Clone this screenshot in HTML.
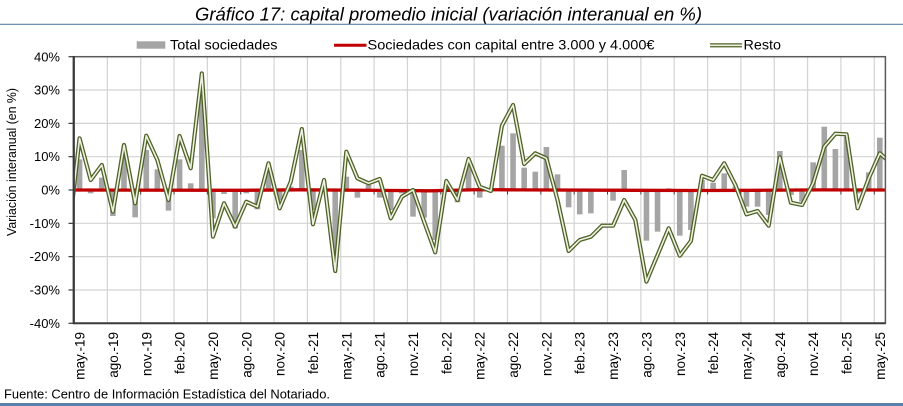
<!DOCTYPE html>
<html><head><meta charset="utf-8"><style>
html,body{margin:0;padding:0;background:#fff;}
svg{display:block;}
text{font-family:"Liberation Sans",Arial,sans-serif;fill:#000;}
</style></head><body>
<svg width="903" height="406" viewBox="0 0 903 406" xmlns="http://www.w3.org/2000/svg">
<rect x="0" y="0" width="903" height="406" fill="#fff"/>
<text x="195" y="20.5" font-size="18.5" font-style="italic" textLength="507" lengthAdjust="spacingAndGlyphs" fill="#1a1a1a">Gráfico 17: capital promedio inicial (variación interanual en %)</text>
<line x1="0" y1="24.3" x2="903" y2="24.3" stroke="#5b80a8" stroke-width="1.2"/>
<rect x="136.7" y="41.3" width="28.6" height="7.4" fill="#a5a5a5"/>
<text x="170" y="49.5" font-size="14" textLength="107.5" lengthAdjust="spacingAndGlyphs">Total sociedades</text>
<line x1="334" y1="45.3" x2="366.5" y2="45.3" stroke="#c00000" stroke-width="3"/>
<text x="367.5" y="49.5" font-size="14" textLength="287" lengthAdjust="spacingAndGlyphs">Sociedades con capital entre 3.000 y 4.000€</text>
<line x1="710" y1="45.3" x2="742" y2="45.3" stroke="#4f6228" stroke-width="4.2"/>
<line x1="710" y1="45.3" x2="742" y2="45.3" stroke="#eef2e0" stroke-width="1.6"/>
<text x="743.5" y="49.5" font-size="14" textLength="37.5" lengthAdjust="spacingAndGlyphs">Resto</text>
<g stroke="#d3d3d3" stroke-width="1.2">
<line x1="74" y1="90.03" x2="885.4" y2="90.03"/><line x1="74" y1="123.35" x2="885.4" y2="123.35"/><line x1="74" y1="156.68" x2="885.4" y2="156.68"/><line x1="74" y1="190" x2="885.4" y2="190"/><line x1="74" y1="223.33" x2="885.4" y2="223.33"/><line x1="74" y1="256.65" x2="885.4" y2="256.65"/><line x1="74" y1="289.98" x2="885.4" y2="289.98"/>
<line x1="107.35" y1="56.7" x2="107.35" y2="323.3"/><line x1="140.69" y1="56.7" x2="140.69" y2="323.3"/><line x1="174.04" y1="56.7" x2="174.04" y2="323.3"/><line x1="207.38" y1="56.7" x2="207.38" y2="323.3"/><line x1="240.73" y1="56.7" x2="240.73" y2="323.3"/><line x1="274.07" y1="56.7" x2="274.07" y2="323.3"/><line x1="307.42" y1="56.7" x2="307.42" y2="323.3"/><line x1="340.76" y1="56.7" x2="340.76" y2="323.3"/><line x1="374.11" y1="56.7" x2="374.11" y2="323.3"/><line x1="407.45" y1="56.7" x2="407.45" y2="323.3"/><line x1="440.8" y1="56.7" x2="440.8" y2="323.3"/><line x1="474.14" y1="56.7" x2="474.14" y2="323.3"/><line x1="507.49" y1="56.7" x2="507.49" y2="323.3"/><line x1="540.83" y1="56.7" x2="540.83" y2="323.3"/><line x1="574.18" y1="56.7" x2="574.18" y2="323.3"/><line x1="607.52" y1="56.7" x2="607.52" y2="323.3"/><line x1="640.87" y1="56.7" x2="640.87" y2="323.3"/><line x1="674.21" y1="56.7" x2="674.21" y2="323.3"/><line x1="707.56" y1="56.7" x2="707.56" y2="323.3"/><line x1="740.9" y1="56.7" x2="740.9" y2="323.3"/><line x1="774.25" y1="56.7" x2="774.25" y2="323.3"/><line x1="807.59" y1="56.7" x2="807.59" y2="323.3"/><line x1="840.94" y1="56.7" x2="840.94" y2="323.3"/><line x1="874.28" y1="56.7" x2="874.28" y2="323.3"/>
</g>
<g fill="#a5a5a5">
<rect x="76.76" y="159.34" width="5.6" height="30.66"/>
<rect x="87.88" y="190" width="5.6" height="3.33"/>
<rect x="98.99" y="177.67" width="5.6" height="12.33"/>
<rect x="110.11" y="190" width="5.6" height="25.99"/>
<rect x="121.22" y="156.67" width="5.6" height="33.33"/>
<rect x="132.34" y="190" width="5.6" height="27.33"/>
<rect x="143.45" y="150.01" width="5.6" height="39.99"/>
<rect x="154.57" y="169.34" width="5.6" height="20.66"/>
<rect x="165.68" y="190" width="5.6" height="20.66"/>
<rect x="176.8" y="159.34" width="5.6" height="30.66"/>
<rect x="187.91" y="183.33" width="5.6" height="6.67"/>
<rect x="199.03" y="86.69" width="5.6" height="103.31"/>
<rect x="210.14" y="190" width="5.6" height="28.33"/>
<rect x="221.26" y="190" width="5.6" height="4"/>
<rect x="232.37" y="190" width="5.6" height="38.32"/>
<rect x="243.49" y="190" width="5.6" height="3.33"/>
<rect x="254.6" y="190" width="5.6" height="19.33"/>
<rect x="265.72" y="168.34" width="5.6" height="21.66"/>
<rect x="276.83" y="190" width="5.6" height="10"/>
<rect x="287.95" y="186.67" width="5.6" height="3.33"/>
<rect x="299.06" y="150.01" width="5.6" height="39.99"/>
<rect x="310.18" y="190" width="5.6" height="20"/>
<rect x="321.29" y="186.67" width="5.6" height="3.33"/>
<rect x="332.41" y="190" width="5.6" height="76.65"/>
<rect x="343.52" y="176.67" width="5.6" height="13.33"/>
<rect x="354.64" y="190" width="5.6" height="7.66"/>
<rect x="365.75" y="185" width="5.6" height="5"/>
<rect x="376.87" y="190" width="5.6" height="7.66"/>
<rect x="387.98" y="190" width="5.6" height="20"/>
<rect x="399.1" y="190" width="5.6" height="3.33"/>
<rect x="410.21" y="190" width="5.6" height="26.66"/>
<rect x="421.33" y="190" width="5.6" height="27.66"/>
<rect x="432.44" y="190" width="5.6" height="49.99"/>
<rect x="443.56" y="186.67" width="5.6" height="3.33"/>
<rect x="454.67" y="190" width="5.6" height="12.33"/>
<rect x="465.79" y="163.34" width="5.6" height="26.66"/>
<rect x="476.9" y="190" width="5.6" height="7.66"/>
<rect x="488.02" y="188.33" width="5.6" height="1.67"/>
<rect x="499.13" y="145.68" width="5.6" height="44.32"/>
<rect x="510.25" y="133.35" width="5.6" height="56.65"/>
<rect x="521.36" y="167.67" width="5.6" height="22.33"/>
<rect x="532.48" y="171.67" width="5.6" height="18.33"/>
<rect x="543.59" y="147.01" width="5.6" height="42.99"/>
<rect x="554.71" y="174.34" width="5.6" height="15.66"/>
<rect x="565.82" y="190" width="5.6" height="17.33"/>
<rect x="576.94" y="190" width="5.6" height="24.33"/>
<rect x="588.05" y="190" width="5.6" height="23.33"/>
<rect x="610.28" y="190" width="5.6" height="10.66"/>
<rect x="621.4" y="170" width="5.6" height="20"/>
<rect x="643.63" y="190" width="5.6" height="50.65"/>
<rect x="654.74" y="190" width="5.6" height="41.66"/>
<rect x="665.86" y="188.33" width="5.6" height="1.67"/>
<rect x="676.97" y="190" width="5.6" height="45.66"/>
<rect x="688.09" y="190" width="5.6" height="39.99"/>
<rect x="699.2" y="180" width="5.6" height="10"/>
<rect x="710.32" y="182.67" width="5.6" height="7.33"/>
<rect x="721.43" y="173.34" width="5.6" height="16.66"/>
<rect x="732.55" y="186.67" width="5.6" height="3.33"/>
<rect x="743.66" y="190" width="5.6" height="16.66"/>
<rect x="754.78" y="190" width="5.6" height="16.66"/>
<rect x="765.89" y="190" width="5.6" height="24.99"/>
<rect x="777.01" y="151.01" width="5.6" height="38.99"/>
<rect x="788.12" y="190" width="5.6" height="5"/>
<rect x="799.24" y="190" width="5.6" height="11.66"/>
<rect x="810.35" y="162.34" width="5.6" height="27.66"/>
<rect x="821.47" y="126.68" width="5.6" height="63.32"/>
<rect x="832.58" y="149.01" width="5.6" height="40.99"/>
<rect x="843.7" y="136.68" width="5.6" height="53.32"/>
<rect x="854.81" y="190" width="5.6" height="3.33"/>
<rect x="865.93" y="172.34" width="5.6" height="17.66"/>
<rect x="877.04" y="137.68" width="5.6" height="52.32"/>
</g>
<g stroke="#404040" stroke-width="1">
<line x1="107.35" y1="190" x2="107.35" y2="194.5"/><line x1="140.69" y1="190" x2="140.69" y2="194.5"/><line x1="174.04" y1="190" x2="174.04" y2="194.5"/><line x1="207.38" y1="190" x2="207.38" y2="194.5"/><line x1="240.73" y1="190" x2="240.73" y2="194.5"/><line x1="274.07" y1="190" x2="274.07" y2="194.5"/><line x1="307.42" y1="190" x2="307.42" y2="194.5"/><line x1="340.76" y1="190" x2="340.76" y2="194.5"/><line x1="374.11" y1="190" x2="374.11" y2="194.5"/><line x1="407.45" y1="190" x2="407.45" y2="194.5"/><line x1="440.8" y1="190" x2="440.8" y2="194.5"/><line x1="474.14" y1="190" x2="474.14" y2="194.5"/><line x1="507.49" y1="190" x2="507.49" y2="194.5"/><line x1="540.83" y1="190" x2="540.83" y2="194.5"/><line x1="574.18" y1="190" x2="574.18" y2="194.5"/><line x1="607.52" y1="190" x2="607.52" y2="194.5"/><line x1="640.87" y1="190" x2="640.87" y2="194.5"/><line x1="674.21" y1="190" x2="674.21" y2="194.5"/><line x1="707.56" y1="190" x2="707.56" y2="194.5"/><line x1="740.9" y1="190" x2="740.9" y2="194.5"/><line x1="774.25" y1="190" x2="774.25" y2="194.5"/><line x1="807.59" y1="190" x2="807.59" y2="194.5"/><line x1="840.94" y1="190" x2="840.94" y2="194.5"/><line x1="874.28" y1="190" x2="874.28" y2="194.5"/>
</g>
<defs><clipPath id="pa"><rect x="74" y="56" width="811.4" height="268"/></clipPath></defs>
<polyline clip-path="url(#pa)" fill="none" stroke="#c00000" stroke-width="3.3" points="74,190 240,190.3 300,189.8 380,190.4 430,190.8 480,189.6 520,189.9 600,190.2 700,190.5 760,190.3 820,189.9 885.4,190"/>
<g clip-path="url(#pa)" fill="none" stroke-linejoin="round">
<polyline stroke="#4f6228" stroke-width="4.2" points="68.45,236.7 79.56,138.3 90.68,180 101.79,165 112.91,211.7 124.02,145 135.14,203.3 146.25,135.7 157.37,160 168.48,200 179.6,136 190.71,168.3 201.83,73.4 212.94,236.7 224.06,203.3 235.17,226.7 246.29,201.7 257.4,206.7 268.52,163.3 279.63,208.3 290.75,181.7 301.86,129 312.98,224.3 324.09,180 335.21,271 346.32,151.7 357.44,178.3 368.55,183.3 379.67,179 390.78,218.3 401.9,196.7 413.01,190 424.13,221.7 435.24,252.3 446.36,181 457.47,200 468.59,159 479.7,186.7 490.82,191 501.93,125.7 513.05,105 524.16,164 535.28,153.3 546.39,158.3 557.51,200 568.62,251 579.74,240 590.85,236.7 601.97,225.7 613.08,225.7 624.2,200 635.31,220 646.43,281.6 657.54,255 668.66,228.3 679.77,255.7 690.89,241 702,175.7 713.12,180 724.23,163.3 735.35,185 746.46,214.3 757.58,211 768.69,225.7 779.81,157.3 790.92,202.7 802.04,205 813.15,183.3 824.27,146.7 835.38,133.7 846.5,134.3 857.61,208.3 868.73,178.3 879.84,153.3 890.96,163.3"/>
<polyline stroke="#eef2e0" stroke-width="1.6" points="68.45,236.7 79.56,138.3 90.68,180 101.79,165 112.91,211.7 124.02,145 135.14,203.3 146.25,135.7 157.37,160 168.48,200 179.6,136 190.71,168.3 201.83,73.4 212.94,236.7 224.06,203.3 235.17,226.7 246.29,201.7 257.4,206.7 268.52,163.3 279.63,208.3 290.75,181.7 301.86,129 312.98,224.3 324.09,180 335.21,271 346.32,151.7 357.44,178.3 368.55,183.3 379.67,179 390.78,218.3 401.9,196.7 413.01,190 424.13,221.7 435.24,252.3 446.36,181 457.47,200 468.59,159 479.7,186.7 490.82,191 501.93,125.7 513.05,105 524.16,164 535.28,153.3 546.39,158.3 557.51,200 568.62,251 579.74,240 590.85,236.7 601.97,225.7 613.08,225.7 624.2,200 635.31,220 646.43,281.6 657.54,255 668.66,228.3 679.77,255.7 690.89,241 702,175.7 713.12,180 724.23,163.3 735.35,185 746.46,214.3 757.58,211 768.69,225.7 779.81,157.3 790.92,202.7 802.04,205 813.15,183.3 824.27,146.7 835.38,133.7 846.5,134.3 857.61,208.3 868.73,178.3 879.84,153.3 890.96,163.3"/>
</g>
<rect x="74" y="56.7" width="811.4" height="266.6" fill="none" stroke="#5a5a5a" stroke-width="1.5"/>
<line x1="74" y1="323.3" x2="885.4" y2="323.3" stroke="#3a3a3a" stroke-width="2"/>
<line x1="73.7" y1="56" x2="73.7" y2="324.3" stroke="#3a3a3a" stroke-width="2.2"/>
<g stroke="#3a3a3a" stroke-width="1.2">
<line x1="68.5" y1="56.7" x2="73.7" y2="56.7"/><line x1="68.5" y1="90.03" x2="73.7" y2="90.03"/><line x1="68.5" y1="123.35" x2="73.7" y2="123.35"/><line x1="68.5" y1="156.68" x2="73.7" y2="156.68"/><line x1="68.5" y1="190" x2="73.7" y2="190"/><line x1="68.5" y1="223.33" x2="73.7" y2="223.33"/><line x1="68.5" y1="256.65" x2="73.7" y2="256.65"/><line x1="68.5" y1="289.98" x2="73.7" y2="289.98"/><line x1="68.5" y1="323.3" x2="73.7" y2="323.3"/>
</g>
<g font-size="13" text-anchor="end">
<text x="60" y="61.3">40%</text><text x="60" y="94.6">30%</text><text x="60" y="127.9">20%</text><text x="60" y="161.2">10%</text><text x="60" y="194.5">0%</text><text x="60" y="227.8">-10%</text><text x="60" y="261.1">-20%</text><text x="60" y="294.4">-30%</text><text x="60" y="327.8">-40%</text>
</g>
<text transform="translate(16,162) rotate(-90)" font-size="12.5" text-anchor="middle" textLength="148" lengthAdjust="spacingAndGlyphs">Variación interanual (en %)</text>
<g font-size="13.5" text-anchor="end">
<text transform="translate(84.56,332) rotate(-90)">may.-19</text>
<text transform="translate(117.91,332) rotate(-90)">ago.-19</text>
<text transform="translate(151.25,332) rotate(-90)">nov.-19</text>
<text transform="translate(184.6,332) rotate(-90)">feb.-20</text>
<text transform="translate(217.94,332) rotate(-90)">may.-20</text>
<text transform="translate(251.29,332) rotate(-90)">ago.-20</text>
<text transform="translate(284.63,332) rotate(-90)">nov.-20</text>
<text transform="translate(317.98,332) rotate(-90)">feb.-21</text>
<text transform="translate(351.32,332) rotate(-90)">may.-21</text>
<text transform="translate(384.67,332) rotate(-90)">ago.-21</text>
<text transform="translate(418.01,332) rotate(-90)">nov.-21</text>
<text transform="translate(451.36,332) rotate(-90)">feb.-22</text>
<text transform="translate(484.7,332) rotate(-90)">may.-22</text>
<text transform="translate(518.05,332) rotate(-90)">ago.-22</text>
<text transform="translate(551.39,332) rotate(-90)">nov.-22</text>
<text transform="translate(584.74,332) rotate(-90)">feb.-23</text>
<text transform="translate(618.08,332) rotate(-90)">may.-23</text>
<text transform="translate(651.43,332) rotate(-90)">ago.-23</text>
<text transform="translate(684.77,332) rotate(-90)">nov.-23</text>
<text transform="translate(718.12,332) rotate(-90)">feb.-24</text>
<text transform="translate(751.46,332) rotate(-90)">may.-24</text>
<text transform="translate(784.81,332) rotate(-90)">ago.-24</text>
<text transform="translate(818.15,332) rotate(-90)">nov.-24</text>
<text transform="translate(851.5,332) rotate(-90)">feb.-25</text>
<text transform="translate(884.84,332) rotate(-90)">may.-25</text>
</g>
<text x="4" y="398.3" font-size="12.5" textLength="326" lengthAdjust="spacingAndGlyphs">Fuente: Centro de Información Estadística del Notariado.</text>
<rect x="0" y="403" width="903" height="3" fill="#5b80a8"/>
</svg>
</body></html>
